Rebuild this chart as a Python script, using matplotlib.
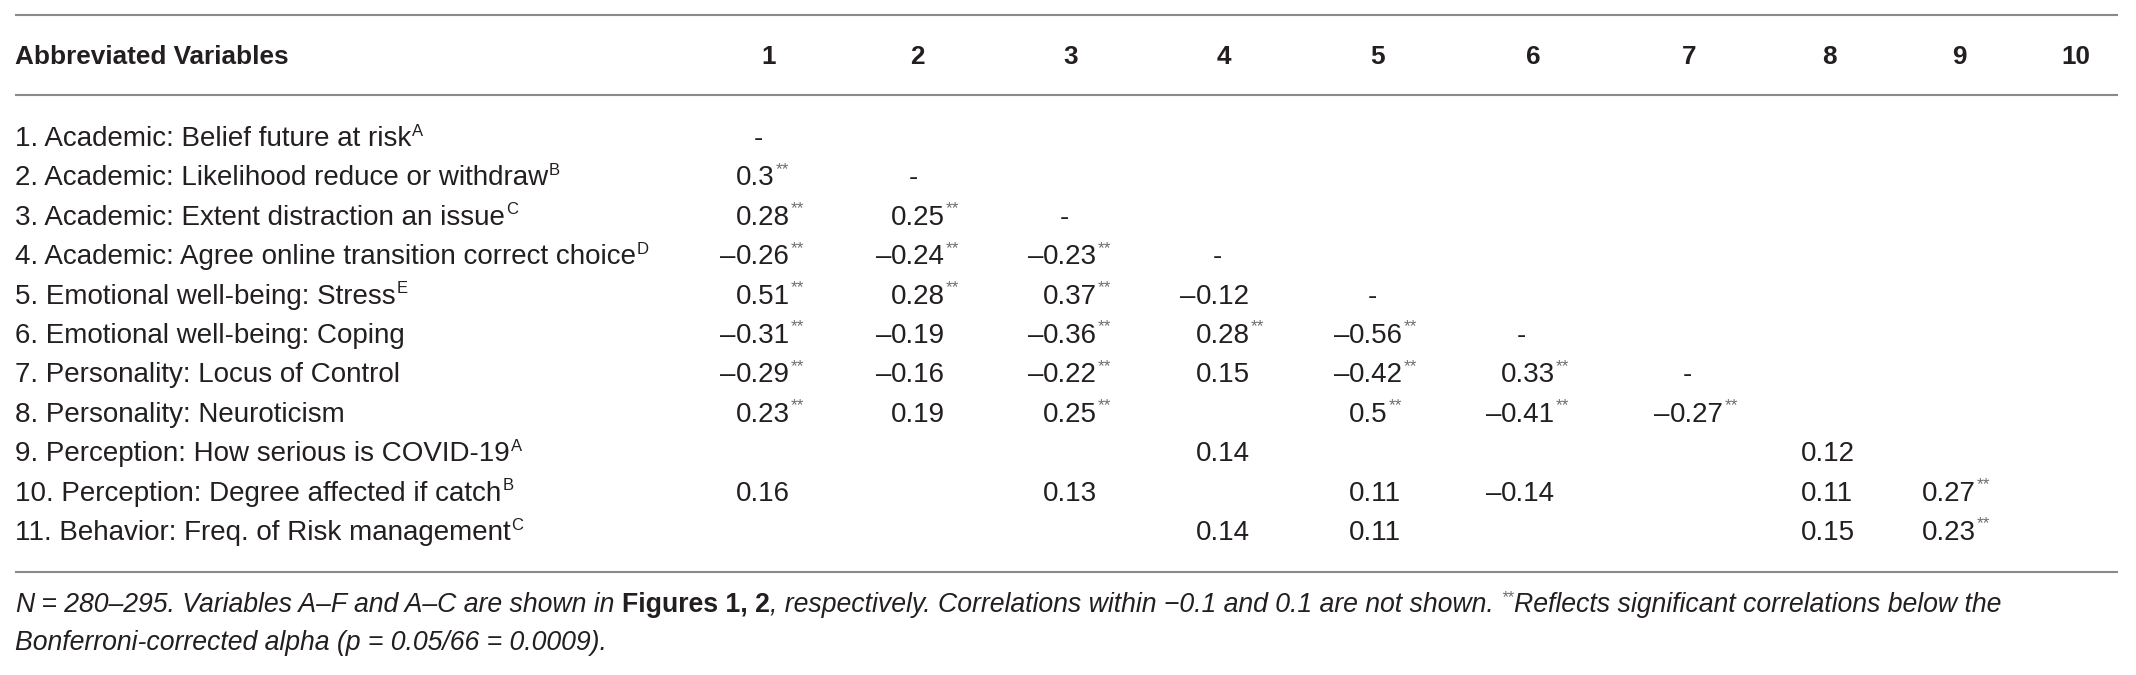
import numpy as np
import matplotlib
matplotlib.use("Agg")
import matplotlib.pyplot as plt

plt.rcParams['font.family'] = ['Liberation Sans', 'DejaVu Sans']

nan = np.nan

# row labels and their superscript letters
labels = [
    "1. Academic: Belief future at risk",
    "2. Academic: Likelihood reduce or withdraw",
    "3. Academic: Extent distraction an issue",
    "4. Academic: Agree online transition correct choice",
    "5. Emotional well-being: Stress",
    "6. Emotional well-being: Coping",
    "7. Personality: Locus of Control",
    "8. Personality: Neuroticism",
    "9. Perception: How serious is COVID-19",
    "10. Perception: Degree affected if catch",
    "11. Behavior: Freq. of Risk management",
]
label_sup = ["A", "B", "C", "D", "E", "", "", "", "A", "B", "C"]
col_names = ["1", "2", "3", "4", "5", "6", "7", "8", "9", "10"]

# correlation values (nan = not shown), 11 rows x 10 columns
corr = np.array([
    [nan, nan, nan, nan, nan, nan, nan, nan, nan, nan],
    [0.30, nan, nan, nan, nan, nan, nan, nan, nan, nan],
    [0.28, 0.25, nan, nan, nan, nan, nan, nan, nan, nan],
    [-0.26, -0.24, -0.23, nan, nan, nan, nan, nan, nan, nan],
    [0.51, 0.28, 0.37, -0.12, nan, nan, nan, nan, nan, nan],
    [-0.31, -0.19, -0.36, 0.28, -0.56, nan, nan, nan, nan, nan],
    [-0.29, -0.16, -0.22, 0.15, -0.42, 0.33, nan, nan, nan, nan],
    [0.23, 0.19, 0.25, nan, 0.50, -0.41, -0.27, nan, nan, nan],
    [nan, nan, nan, 0.14, nan, nan, nan, 0.12, nan, nan],
    [0.16, nan, 0.13, nan, 0.11, -0.14, nan, 0.11, 0.27, nan],
    [nan, nan, nan, 0.14, 0.11, nan, nan, 0.15, 0.23, nan],
])
sig = np.array([
    [0, 0, 0, 0, 0, 0, 0, 0, 0, 0],
    [1, 0, 0, 0, 0, 0, 0, 0, 0, 0],
    [1, 1, 0, 0, 0, 0, 0, 0, 0, 0],
    [1, 1, 1, 0, 0, 0, 0, 0, 0, 0],
    [1, 1, 1, 0, 0, 0, 0, 0, 0, 0],
    [1, 0, 1, 1, 1, 0, 0, 0, 0, 0],
    [1, 0, 1, 0, 1, 1, 0, 0, 0, 0],
    [1, 0, 1, 0, 1, 1, 1, 0, 0, 0],
    [0, 0, 0, 0, 0, 0, 0, 0, 0, 0],
    [0, 0, 0, 0, 0, 0, 0, 0, 1, 0],
    [0, 0, 0, 0, 0, 0, 0, 0, 1, 0],
], dtype=bool)
n_diag = 7  # rows that show the "-" on the diagonal

# layout (pixels)
W, H = 2136, 675
left, right = 15, 2118
header_x = [769, 917, 1071, 1224, 1378, 1533, 1689, 1829, 1959, 2076]
num_x = [736, 891, 1043, 1196, 1349, 1501, 1670, 1801, 1922, 2050]
dash_x = [758, 913, 1064, 1217, 1372, 1521, 1687, 1820, 1950, 2070]
y_top, y_head, y_mid = 15, 57, 95
row_y0, row_dy = 139, 39.4
y_bottom = 572
foot_y = [605, 643]

ink = "#231f20"
star_col = "#6d6d6d"
rule_col = "#8a8a8a"
fs = 20
fs_head = 18.8
ffs = 19.2

fig = plt.figure(figsize=(W / 100, H / 100), dpi=100)
ax = fig.add_axes([0, 0, 1, 1])
ax.set_xlim(0, W)
ax.set_ylim(H, 0)
ax.axis("off")
r = fig.canvas.get_renderer()
inv = ax.transData.inverted()


def x_end(t):
    bb = t.get_window_extent(r)
    return inv.transform((bb.x1, bb.y0))[0]


def sup(x, y, s, color=ink, size=fs * 0.6):
    return ax.text(x + 1, y - 8, s, fontsize=size, color=color, va="center", ha="left")


for yy in (y_top, y_mid, y_bottom):
    ax.plot([left, right], [yy, yy], color=rule_col, lw=1.5, solid_capstyle="butt")

ax.text(left, y_head, "Abbreviated Variables", fontsize=fs_head, fontweight="bold",
        color=ink, va="center", ha="left")
for j, c in enumerate(col_names):
    ax.text(header_x[j], y_head, c, fontsize=fs_head, fontweight="bold", color=ink,
            va="center", ha="center")

for i, lab in enumerate(labels):
    y = row_y0 + i * row_dy
    t = ax.text(left, y, lab, fontsize=fs, color=ink, va="center", ha="left")
    if label_sup[i]:
        sup(x_end(t), y, label_sup[i])
    if i < n_diag:
        ax.text(dash_x[i], y, "-", fontsize=fs, color=ink, va="center", ha="center")
    for j in range(len(col_names)):
        v = corr[i, j]
        if np.isnan(v):
            continue
        t = ax.text(num_x[j], y, f"{abs(v):g}", fontsize=fs, color=ink,
                    va="center", ha="left")
        if v < 0:
            ax.text(num_x[j], y, "\u2013", fontsize=fs, color=ink, va="center", ha="right")
        if sig[i, j]:
            sup(x_end(t), y - 1, "**", color=star_col, size=fs * 0.62)

# footnote with mixed styles
foot = [
    [("N", "italic", "normal", False), (" = 280\u2013295. Variables A\u2013F and A\u2013C are shown in ", "italic", "normal", False),
     ("Figures 1, 2", "normal", "bold", False),
     (", respectively. Correlations within \u22120.1 and 0.1 are not shown. ", "italic", "normal", False),
     ("**", "italic", "normal", True), ("Reflects significant correlations below the", "italic", "normal", False)],
    [("Bonferroni-corrected alpha (p = 0.05/66 = 0.0009).", "italic", "normal", False)],
]
for k, parts in enumerate(foot):
    x = left
    y = foot_y[k]
    for s, style, weight, is_sup in parts:
        if is_sup:
            t = ax.text(x, y - 7, s, fontsize=ffs * 0.6, style=style, color=star_col,
                        va="center", ha="left")
        else:
            t = ax.text(x, y, s, fontsize=ffs, style=style, fontweight=weight, color=ink,
                        va="center", ha="left")
        x = x_end(t)

fig.savefig("out.png", dpi=100)
